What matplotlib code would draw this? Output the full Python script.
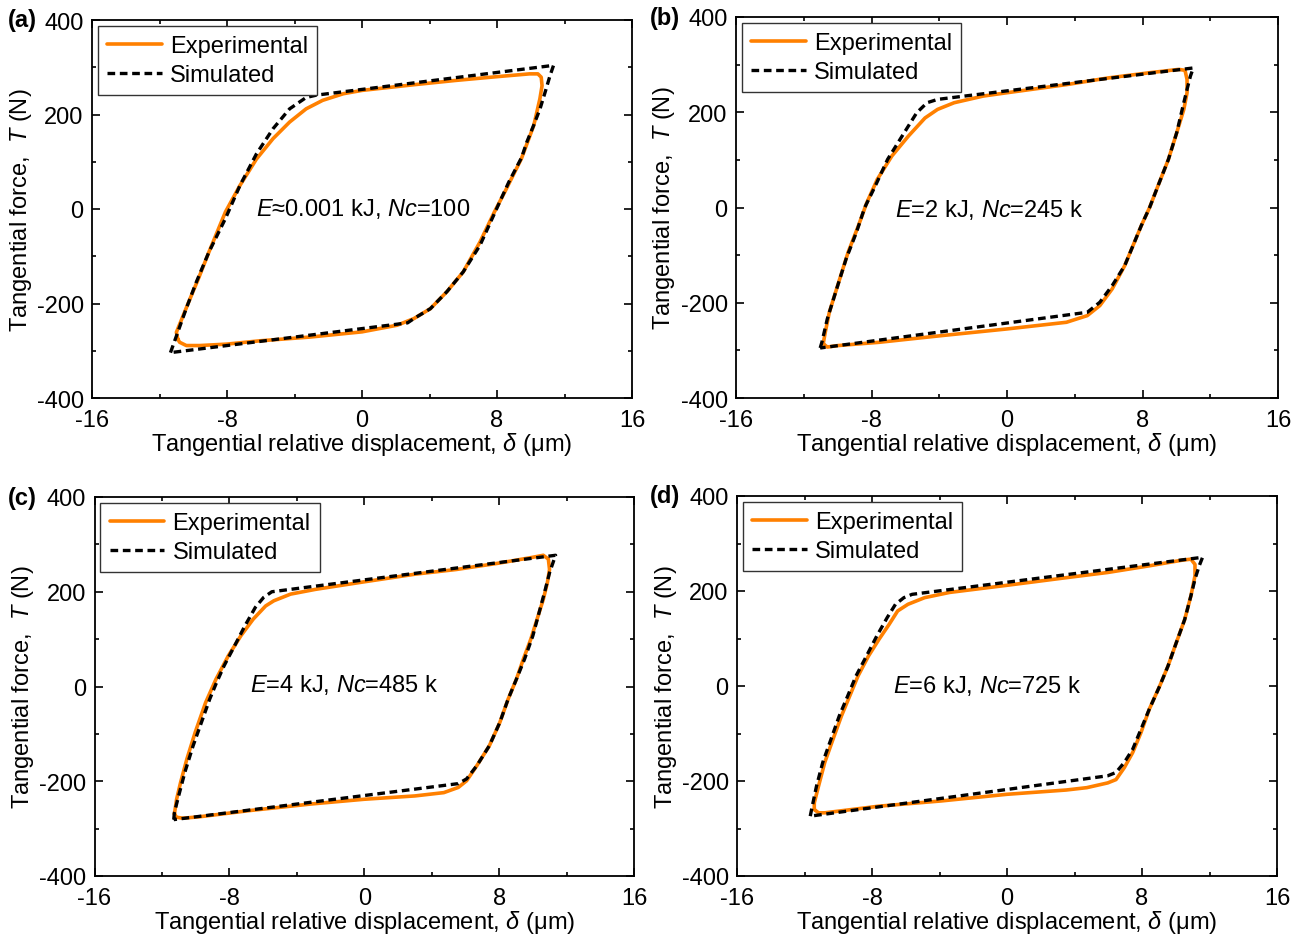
import matplotlib
matplotlib.use("Agg")
import matplotlib.pyplot as plt
from matplotlib.ticker import MultipleLocator

plt.rcParams["font.family"] = ["Liberation Sans", "DejaVu Sans"]
plt.rcParams["mathtext.fontset"] = "custom"
plt.rcParams["mathtext.rm"] = "Liberation Sans"
plt.rcParams["mathtext.it"] = "Liberation Sans:italic"
plt.rcParams["axes.unicode_minus"] = False

# ---------------- data: hysteresis loops (delta in um, T in N) ----------------
# (a) E ~ 0.001 kJ, Nc = 100
delta_exp_a = [-10.92, -11.00, -10.67, -10.18, -9.69, -9.07, -8.09, -7.23, -6.25, -5.27, -4.29,
               -3.31, -2.33, -1.10, 0.00, 3.07, 5.52, 7.97, 9.93, 10.42, 10.62, 10.67, 10.54,
               10.18, 9.44, 8.46, 7.85, 6.99, 6.00, 5.03, 4.05, 3.07, 2.08, 0.00, -3.07, -6.06,
               -8.04, -9.62, -10.41, -10.81, -10.92]
T_exp_a = [-275, -261, -232, -189, -147, -91, -6, 50, 106, 149, 184,
           212, 230, 244, 251, 263, 272, 280, 286, 286, 279, 261, 233,
           177, 106, 36, -6, -70, -133, -175, -211, -232, -246, -260, -271, -279,
           -286, -289, -289, -282, -275]
delta_sim_a = [-11.35, -10.91, -10.42, -9.81, -9.07, -8.09, -7.23, -6.25, -5.27, -4.29, -3.31,
               -2.70, 11.35, 11.14, 10.85, 10.55, 10.16, 9.76, 9.46, 8.70, 7.97, 6.99, 6.00,
               5.03, 4.05, 3.07, 2.70, -11.35]
T_sim_a = [-304, -260, -211, -154, -91, -20, 50, 117, 170, 212, 236,
           241, 304, 282, 247, 212, 176, 141, 109, 57, 0, -77, -133,
           -175, -211, -232, -241, -304]

# (b) E = 2 kJ, Nc = 245 k
delta_exp_b = [-10.85, -10.73, -10.49, -10.00, -9.38, -8.77, -8.28, -7.66, -6.80, -5.82, -4.84,
               -4.10, -3.12, -1.40, 0.00, 3.51, 5.97, 8.42, 10.14, 10.51, 10.63, 10.63, 10.44,
               10.02, 9.53, 8.91, 8.42, 7.93, 7.44, 6.95, 6.21, 5.48, 4.74, 3.51, 0.00, -3.86,
               -7.54, -10.00, -10.61, -10.85]
T_exp_b = [-286, -262, -220, -164, -94, -38, 10, 59, 108, 150, 188,
           206, 220, 234, 241, 258, 272, 283, 290, 288, 269, 241, 206,
           157, 101, 45, 0, -38, -80, -122, -171, -206, -227, -241, -255, -269,
           -283, -290, -293, -286]
delta_sim_b = [-11.03, -10.93, -10.61, -10.12, -9.50, -8.89, -8.40, -7.78, -7.05, -6.07, -5.33,
               -4.72, -4.10, 11.00, 10.83, 10.63, 10.39, 10.02, 9.53, 8.91, 8.42, 7.93, 7.44,
               6.95, 6.21, 5.48, 4.74, -11.03]
T_sim_b = [-295, -283, -234, -178, -108, -52, 0, 45, 101, 157, 199,
           220, 227, 293, 276, 248, 213, 157, 101, 45, 0, -38, -80,
           -122, -164, -199, -220, -295]

# (c) E = 4 kJ, Nc = 485 k
delta_exp_c = [-11.26, -11.13, -10.89, -10.52, -10.03, -9.41, -8.80, -8.06, -7.32, -6.59, -5.85,
               -5.36, -4.37, -2.90, 0.00, 3.00, 5.46, 7.91, 9.88, 10.62, 10.92, 10.99, 10.86,
               10.62, 10.25, 9.88, 9.44, 9.02, 8.53, 8.04, 7.42, 6.68, 6.07, 5.58, 4.72, 3.00,
               0.00, -3.15, -6.83, -9.78, -10.76, -11.13, -11.26]
T_exp_c = [-269, -238, -202, -153, -97, -34, 15, 65, 107, 142, 170,
           181, 195, 205, 221, 237, 247, 260, 272, 277, 269, 247, 219,
           184, 142, 100, 58, 15, -27, -76, -125, -167, -199, -213, -224, -231,
           -238, -248, -262, -275, -278, -276, -269]
delta_sim_c = [-11.30, -11.26, -11.01, -10.64, -10.15, -9.66, -9.17, -8.80, -8.31, -7.69, -7.08,
               -6.46, -5.97, -5.48, 11.35, 11.23, 10.99, 10.74, 10.37, 10.00, 9.51, 9.02, 8.53,
               8.04, 7.42, 6.68, 6.07, 5.58, -11.30]
T_sim_c = [-281, -266, -231, -181, -125, -76, -27, 5, 44, 86, 128,
           167, 188, 200, 277, 265, 240, 205, 156, 107, 58, 15, -27,
           -76, -125, -167, -195, -205, -281]

# (d) E = 6 kJ, Nc = 725 k
delta_exp_d = [-11.42, -11.42, -11.17, -10.80, -10.31, -9.81, -9.32, -8.83, -8.21, -7.59, -6.98,
               -6.48, -5.87, -4.88, -3.40, 0.00, 3.50, 5.97, 8.43, 10.40, 10.90, 11.14, 11.14,
               10.90, 10.53, 10.03, 9.54, 9.05, 8.43, 7.94, 7.45, 6.95, 6.46, 5.97, 4.73, 3.50,
               0.00, -3.90, -7.59, -10.80, -11.17, -11.42]
T_exp_d = [-260, -246, -211, -161, -112, -63, -21, 21, 63, 98, 130,
           158, 172, 186, 197, 212, 228, 239, 253, 265, 267, 256, 232,
           190, 140, 91, 42, 0, -49, -98, -140, -172, -197, -204, -214, -219,
           -228, -242, -253, -267, -267, -260]
delta_sim_d = [-11.66, -11.54, -11.29, -10.92, -10.43, -9.94, -9.44, -8.95, -8.33, -7.72, -7.10,
               -6.61, -6.11, -5.62, 11.59, 11.39, 11.14, 10.90, 10.53, 10.03, 9.54, 9.05, 8.43,
               7.94, 7.45, 6.95, 6.46, 5.97, -11.66]
T_sim_d = [-274, -253, -211, -161, -112, -63, -21, 21, 63, 105, 144,
           172, 186, 193, 271, 253, 225, 190, 140, 91, 42, 0, -49,
           -91, -133, -161, -182, -189, -274]

panel_tags = ["(a)", "(b)", "(c)", "(d)"]
condition_labels = [
    r"$\mathit{E}$≈0.001 kJ, $\mathit{Nc}$=100",
    r"$\mathit{E}$=2 kJ, $\mathit{Nc}$=245 k",
    r"$\mathit{E}$=4 kJ, $\mathit{Nc}$=485 k",
    r"$\mathit{E}$=6 kJ, $\mathit{Nc}$=725 k",
]
x_ticks = [-16, -8, 0, 8, 16]
y_ticks = [-400, -200, 0, 200, 400]

experimental = [(delta_exp_a, T_exp_a), (delta_exp_b, T_exp_b),
                (delta_exp_c, T_exp_c), (delta_exp_d, T_exp_d)]
simulated = [(delta_sim_a, T_sim_a), (delta_sim_b, T_sim_b),
             (delta_sim_c, T_sim_c), (delta_sim_d, T_sim_d)]

# ---------------- layout ----------------
W, H = 1304, 937
# axes boxes in pixels: left, right, top, bottom
boxes = [(92, 632, 21, 399), (736, 1278, 18, 399),
         (94.5, 634, 498, 877), (737, 1277, 497, 877)]
text_anchor = [(-6.3, 3), (-6.6, -3), (-6.76, 5), (-6.78, 3)]
tag_pos = [(8, 20), (650, 18), (8, 498), (650, 497)]

ORANGE = "#ff8000"
FS = 17

fig = plt.figure(figsize=(W / 100, H / 100), dpi=100)

for i in range(4):
    l, r, t, b = boxes[i]
    ax = fig.add_axes([l / W, 1 - b / H, (r - l) / W, (b - t) / H])
    dx, tx = experimental[i]
    ds, ts = simulated[i]
    ax.plot(dx, tx, color=ORANGE, lw=2.6, solid_joinstyle="round", solid_capstyle="round",
            label="Experimental", zorder=2)
    ax.plot(ds, ts, color="black", lw=2.4, dashes=(2.3, 1.4), label="Simulated", zorder=3)

    ax.set_xlim(-16, 16)
    ax.set_ylim(-400, 400)
    ax.set_xticks(x_ticks)
    ax.set_yticks(y_ticks)
    ax.xaxis.set_minor_locator(MultipleLocator(4))
    ax.yaxis.set_minor_locator(MultipleLocator(100))
    ax.tick_params(which="both", direction="in", top=True, right=True, width=1.2,
                   labelsize=FS)
    ax.tick_params(which="major", length=6)
    ax.tick_params(which="minor", length=3)
    ax.tick_params(axis="x", which="major", pad=8)
    ax.tick_params(axis="y", which="major", pad=6)
    for s in ax.spines.values():
        s.set_linewidth(1.3)

    ax.set_xlabel(r"Tangential relative displacement, $\mathit{δ}$ (μm)", fontsize=FS)
    ax.set_ylabel(r"Tangential force,  $\mathit{T}$ (N)", fontsize=FS, va="center")
    ax.xaxis.set_label_coords(0.5, -0.085)
    ax.yaxis.set_label_coords(-0.132, 0.5)

    ax.text(text_anchor[i][0], text_anchor[i][1], condition_labels[i], fontsize=FS,
            ha="left", va="center")

    leg = ax.legend(loc="upper left", fontsize=FS, frameon=True, fancybox=False,
                    borderaxespad=0.25, borderpad=0.4, labelspacing=0.28,
                    handlelength=2.3, handletextpad=0.35)
    leg.get_frame().set_edgecolor("#333333")
    leg.get_frame().set_linewidth(1.0)
    leg.get_frame().set_alpha(1.0)

    fig.text(tag_pos[i][0] / W, 1 - tag_pos[i][1] / H, panel_tags[i], fontsize=FS,
             fontweight="bold", ha="left", va="center")

fig.savefig("out.png", dpi=100)
